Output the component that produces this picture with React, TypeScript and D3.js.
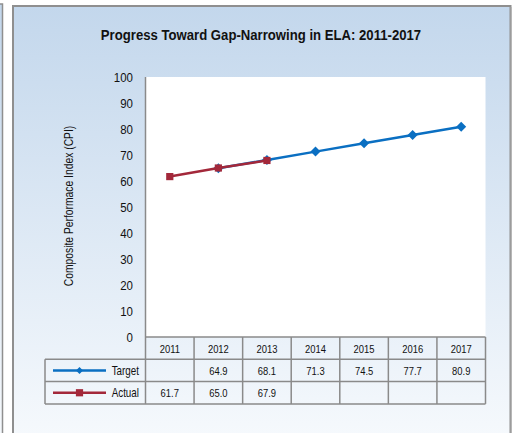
import React from "react";
import * as d3 from "d3";

const years = ["2011", "2012", "2013", "2014", "2015", "2016", "2017"];
const targetValues: (number | null)[] = [null, 64.9, 68.1, 71.3, 74.5, 77.7, 80.9];
const actualValues: (number | null)[] = [61.7, 65.0, 67.9, null, null, null, null];
const yTicks = [0, 10, 20, 30, 40, 50, 60, 70, 80, 90, 100];
const seriesNames = ["Target", "Actual"];
const title = "Progress Toward Gap-Narrowing in ELA: 2011-2017";
const yTitle = "Composite Performace Index (CPI)";

const FONT = "'Liberation Sans', Arial, sans-serif";

function T(props: {
  x: number; y: number; s?: number; anchor?: string; size: number; bold?: boolean; rot?: number; children: React.ReactNode;
}) {
  const { x, y, s = 0.82, anchor = "middle", size, bold, rot = 0, children } = props;
  return (
    <text
      transform={`translate(${x},${y}) rotate(${rot}) scale(${s},1)`}
      textAnchor={anchor}
      fontFamily={FONT}
      fontWeight={bold ? "bold" : "normal"}
      fontSize={size}
      fill="#111"
    >
      {children}
    </text>
  );
}

export default function App() {
  const W = 514, H = 433;
  const plotL = 145.5, plotR = 485.5, plotT = 77, plotB = 337;
  const legendL = 45;
  const rowH = 22.3;
  const x = d3.scaleBand<string>().domain(years).range([plotL, plotR]);
  const y = d3.scaleLinear().domain([0, 100]).range([plotB, plotT]);
  const cx = (yr: string) => (x(yr) as number) + x.bandwidth() / 2;

  const line = d3
    .line<{ yr: string; v: number | null }>()
    .defined((d) => d.v !== null)
    .x((d) => cx(d.yr))
    .y((d) => y(d.v as number));

  const tData = years.map((yr, i) => ({ yr, v: targetValues[i] }));
  const aData = years.map((yr, i) => ({ yr, v: actualValues[i] }));
  const blue = "#0a6fc2";
  const red = "#a3283a";
  const grid = "#8a8a8a";

  const row1 = plotB + rowH;
  const row2 = plotB + rowH * 2;
  const row3 = plotB + rowH * 3;

  const diamond = "M0,-5L5,0L0,5L-5,0Z";
  const square = d3.symbol().type(d3.symbolSquare).size(52)();

  return (
    <svg width={W} height={H} style={{ position: "absolute", left: 0, top: 0 }}>
      <defs>
        <linearGradient id="bg" x1="0" y1="0" x2="0" y2="1">
          <stop offset="0" stopColor="#c3d7ec" />
          <stop offset="1" stopColor="#f7fafd" />
        </linearGradient>
      </defs>
      <rect x={0} y={0} width={W} height={H} fill="#ffffff" />
      <rect x={-10} y={4} width={12.5} height={H + 10} fill="url(#bg)" stroke="#8f8f8f" strokeWidth={1.5} />
      <rect x={13} y={6} width={497.5} height={H + 10} fill="url(#bg)" stroke="#8f8f8f" strokeWidth={2} />
      <line x1={511} y1={7} x2={511} y2={H} stroke="#a8a8a8" strokeWidth={1} />
      <T x={261} y={40} size={15.3} bold s={0.86}>{title}</T>
      <rect x={plotL} y={plotT} width={plotR - plotL} height={plotB - plotT} fill="#ffffff" />
      <line x1={plotL} y1={plotT} x2={plotL} y2={plotB} stroke={grid} strokeWidth={1.5} />
      {yTicks.map((t) => (
        <T key={t} x={133} y={y(t) + 5} anchor="end" size={13.5} s={0.85}>{t}</T>
      ))}
      <T x={73} y={(plotT + plotB) / 2 - 1} rot={-90} size={12} s={0.86}>{yTitle}</T>
      <path d={line(tData) || ""} fill="none" stroke={blue} strokeWidth={2.5} />
      {tData.filter((d) => d.v !== null).map((d) => (
        <path key={d.yr} d={diamond} transform={`translate(${cx(d.yr)},${y(d.v as number)})`} fill={blue} />
      ))}
      <path d={line(aData) || ""} fill="none" stroke={red} strokeWidth={2.5} />
      {aData.filter((d) => d.v !== null).map((d) => (
        <path key={d.yr} d={square || ""} transform={`translate(${cx(d.yr)},${y(d.v as number)})`} fill={red} />
      ))}
      <g stroke={grid} strokeWidth={1.5} fill="none">
        <line x1={plotL} y1={plotB} x2={plotR} y2={plotB} />
        <line x1={legendL} y1={row1} x2={plotR} y2={row1} />
        <line x1={legendL} y1={row2} x2={plotR} y2={row2} />
        <line x1={legendL} y1={row3} x2={plotR} y2={row3} />
        <line x1={legendL} y1={row1} x2={legendL} y2={row3} />
        {years.map((yr) => (
          <line key={yr} x1={x(yr) as number} y1={plotB} x2={x(yr) as number} y2={row3} />
        ))}
        <line x1={plotR} y1={plotB} x2={plotR} y2={row3} />
      </g>
      {years.map((yr) => (
        <T key={yr} x={cx(yr)} y={plotB + 15.5} size={11.5}>{yr}</T>
      ))}
      {years.map((yr, i) =>
        targetValues[i] !== null ? (
          <T key={"t" + yr} x={cx(yr)} y={row1 + 15.5} size={11.5}>{(targetValues[i] as number).toFixed(1)}</T>
        ) : null
      )}
      {years.map((yr, i) =>
        actualValues[i] !== null ? (
          <T key={"a" + yr} x={cx(yr)} y={row2 + 15.5} size={11.5}>{(actualValues[i] as number).toFixed(1)}</T>
        ) : null
      )}
      {seriesNames.map((name, i) => {
        const ry = row1 + rowH * i + rowH / 2;
        const col = i === 0 ? blue : red;
        return (
          <g key={name}>
            <line x1={53} y1={ry} x2={106} y2={ry} stroke={col} strokeWidth={2.5} />
            <path d={i === 0 ? "M0,-3.5L3.5,0L0,3.5L-3.5,0Z" : square || ""} transform={`translate(79.5,${ry})`} fill={col} />
            <T x={139} y={ry + 4.5} anchor="end" size={12}>{name}</T>
          </g>
        );
      })}
    </svg>
  );
}
